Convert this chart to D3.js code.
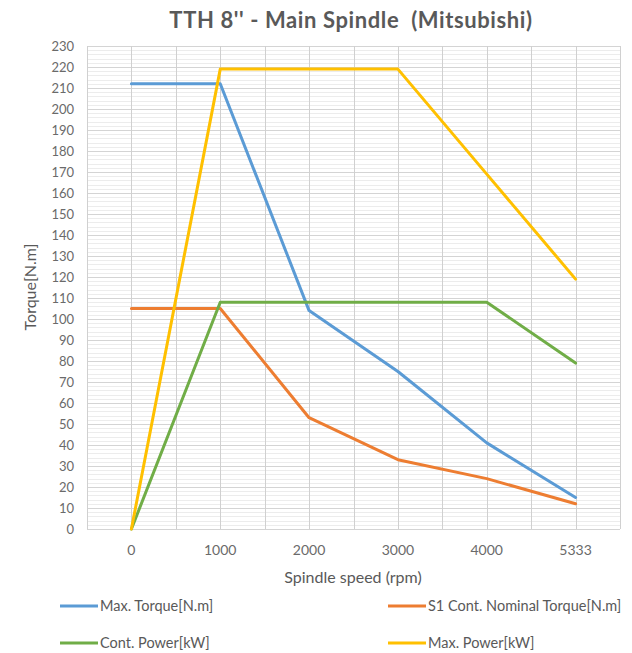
<!DOCTYPE html>
<html>
<head>
<meta charset="utf-8">
<script src="https://cdn.jsdelivr.net/npm/d3@7"></script>
<style>
  html, body { margin: 0; padding: 0; background: #fff; }
  svg { display: block; }
  text { font-family: Lato, "Open Sans", "Liberation Sans", sans-serif; white-space: pre; }
</style>
</head>
<body>
<svg id="chart" width="632" height="653"></svg>
<script>
const categories = ["0", "1000", "2000", "3000", "4000", "5333"];
const maxTorque = [212, 212, 104, 75, 41, 15];
const contTorque = [105, 105, 53, 33, 24, 12];
const contPower = [0, 108, 108, 108, 108, 79];
const maxPower = [0, 219, 219, 219, 169, 119];
const yTicks = d3.range(0, 231, 10);
const seriesNames = ["Max. Torque[N.m]", "S1 Cont. Nominal Torque[N.m]", "Cont. Power[kW]", "Max. Power[kW]"];
const seriesColors = ["#5B9BD5", "#ED7D31", "#70AD47", "#FFC000"];
const seriesData = [maxTorque, contTorque, contPower, maxPower];

const svg = d3.select("#chart");
const pLeft = 87, pRight = 620, pTop = 46, pBottom = 529;

const x = d3.scalePoint().domain(categories).range([pLeft, pRight]).padding(0.5);
const y = d3.scaleLinear().domain([0, 230]).range([pBottom, pTop]);

// minor horizontal gridlines
const g = svg.append("g");
g.selectAll("line.minor").data(d3.range(0, 231, 2).filter(v => v % 10 !== 0))
  .join("line").attr("class", "minor")
  .attr("x1", pLeft).attr("x2", pRight)
  .attr("y1", d => Math.round(y(d)) + 0.5).attr("y2", d => Math.round(y(d)) + 0.5)
  .attr("stroke", "#ececec").attr("stroke-width", 1);
// major horizontal gridlines
g.selectAll("line.major").data(yTicks)
  .join("line").attr("class", "major")
  .attr("x1", pLeft).attr("x2", pRight)
  .attr("y1", d => Math.round(y(d)) + 0.5).attr("y2", d => Math.round(y(d)) + 0.5)
  .attr("stroke", "#d4d4d4").attr("stroke-width", 1);
// vertical gridlines (category centers and boundaries)
const step = x.step();
const vx = d3.range(0, categories.length * 2 + 1).map(i => pLeft + i * step / 2);
g.selectAll("line.v").data(vx)
  .join("line").attr("class", "v")
  .attr("x1", d => Math.round(d) + 0.5).attr("x2", d => Math.round(d) + 0.5)
  .attr("y1", pTop).attr("y2", pBottom)
  .attr("stroke", "#d0d0d0").attr("stroke-width", 1);

// y axis labels
svg.append("g").selectAll("text").data(yTicks)
  .join("text")
  .attr("x", 74).attr("y", d => y(d))
  .attr("dy", "0.35em")
  .attr("text-anchor", "end")
  .attr("font-size", 13)
  .attr("fill", "#6a6a6a")
  .text(d => d);

// x axis labels
svg.append("g").selectAll("text").data(categories)
  .join("text")
  .attr("x", d => x(d)).attr("y", 555)
  .attr("text-anchor", "middle")
  .attr("font-size", 14)
  .attr("fill", "#6a6a6a")
  .text(d => d);

// lines
const line = d3.line().x((d, i) => x(categories[i])).y(d => y(d));
seriesData.forEach((s, k) => {
  svg.append("path")
    .datum(s)
    .attr("d", line)
    .attr("fill", "none")
    .attr("stroke", seriesColors[k])
    .attr("stroke-width", 3)
    .attr("stroke-linejoin", "round")
    .attr("stroke-linecap", "round");
});

// title
svg.append("text")
  .attr("x", 351).attr("y", 28)
  .attr("text-anchor", "middle")
  .attr("font-size", 22)
  .attr("font-weight", "bold")
  .attr("letter-spacing", 0.6)
  .attr("fill", "#595959")
  .text("TTH 8'' - Main Spindle  (Mitsubishi)");

// axis titles
svg.append("text")
  .attr("x", 353).attr("y", 583)
  .attr("text-anchor", "middle")
  .attr("font-size", 16)
  .attr("fill", "#595959")
  .text("Spindle speed (rpm)");
svg.append("text")
  .attr("transform", "translate(36,287) rotate(-90)")
  .attr("text-anchor", "middle")
  .attr("font-size", 16)
  .attr("fill", "#595959")
  .text("Torque[N.m]");

// legend
const legPos = [[60, 606], [388, 606], [60, 643], [388, 643]];
seriesNames.forEach((name, k) => {
  const [lx, ly] = legPos[k];
  svg.append("line")
    .attr("x1", lx).attr("x2", lx + 38)
    .attr("y1", ly).attr("y2", ly)
    .attr("stroke", seriesColors[k]).attr("stroke-width", 3);
  svg.append("text")
    .attr("x", lx + 40).attr("y", ly)
    .attr("dy", "0.35em")
    .attr("font-size", 14.5)
    .attr("fill", "#595959")
    .text(name);
});
</script>
</body>
</html>
